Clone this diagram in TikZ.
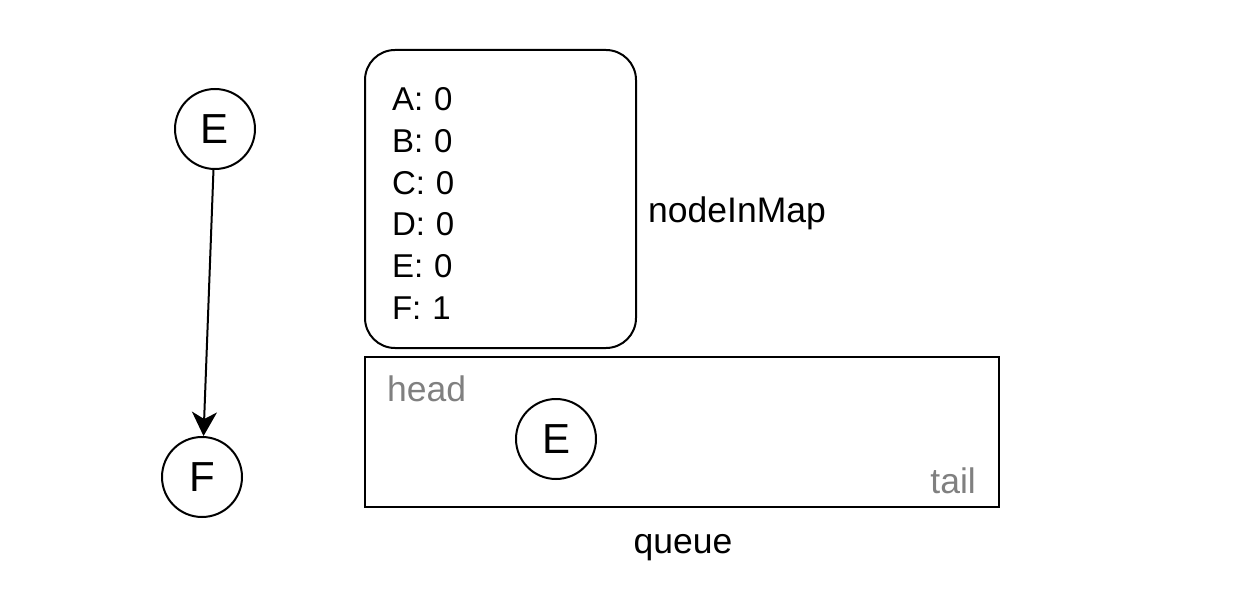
\documentclass[tikz,border=0pt]{standalone}
\usepackage{fontspec}
\setmainfont{Liberation Sans}
\usetikzlibrary{arrows.meta}
\definecolor{labelgray}{RGB}{128,128,128}
\tikzset{
  vertex/.style={draw, circle, line width=2pt, minimum size=80pt, inner sep=0pt,
    font=\fontsize{42}{48}\selectfont},
  mapbox/.style={draw, rounded corners=30pt, line width=2pt, align=left,
    inner xsep=27pt, font=\fontsize{33}{41.9}\selectfont},
  queuebox/.style={draw, line width=2pt, inner sep=0pt},
  caption/.style={font=\fontsize{35.5}{40}\selectfont, inner sep=0pt},
  endlabel/.style={caption, text=labelgray},
}
\begin{document}
\begin{tikzpicture}[x=1pt, y=-1pt]
    \useasboundingbox (0,0) rectangle (1236,612);
    % graph
    \node [vertex] (e) at (215,129) {E};
    \node [vertex] (f) at (202,477) {F};
    \draw[line width=2pt, -{Stealth[length=24pt, width=25pt, inset=7pt]}] (e) -- (f);
    % node map
    \node [mapbox, minimum width=271pt, minimum height=298pt, text width=217pt] (map) at (500.5,199)
      {\rule{0pt}{32pt}A: 0\\B: 0\\C: 0\\D: 0\\E: 0\\F: 1};
    \node [caption, anchor=base west] (maplabel) at (648,223) {nodeInMap};
    % queue
    \node [queuebox, minimum width=634pt, minimum height=150pt] (queue) at (682,432) {};
    \node [endlabel, anchor=base west] (head) at (387,401) {head};
    \node [endlabel, anchor=base east] (tail) at (976,493) {tail};
    \node [vertex] (qe) at (556,439) {E};
    \node [caption, anchor=base] (queuelabel) at (683,553) {queue};
  \end{tikzpicture}
\end{document}
